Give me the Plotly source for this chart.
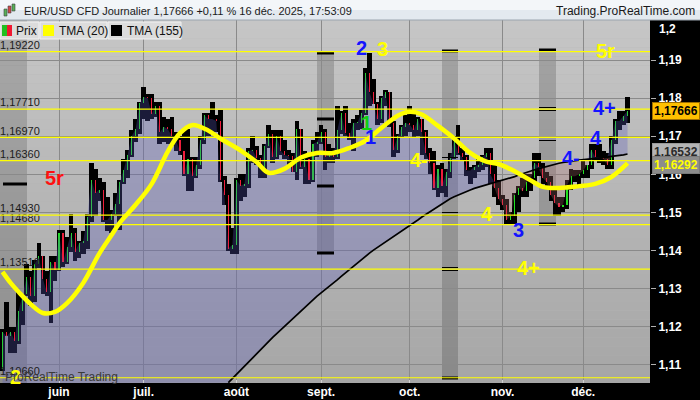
import numpy as np
import pandas as pd
import plotly.graph_objects as go

# ---------------- data ----------------
dates = pd.bdate_range("2025-05-13", "2025-12-16")

opens = [
    1.1090, 1.1187, 1.1175, 1.1187, 1.1163, 1.1242, 1.1285, 1.1330, 1.1280, 1.1365, 1.1385, 1.1325, 1.1290, 1.1370,
    1.1350, 1.1445, 1.1370, 1.1410, 1.1445, 1.1397, 1.1420, 1.1425, 1.1487, 1.1585, 1.1550, 1.1560, 1.1480, 1.1480,
    1.1495, 1.1523, 1.1580, 1.1610, 1.1650, 1.1700, 1.1718,
    1.1787, 1.1803, 1.1800, 1.1758, 1.1780, 1.1710, 1.1725, 1.1718, 1.1700, 1.1690, 1.1660, 1.1600, 1.1640, 1.1595,
    1.1625, 1.1690, 1.1755, 1.1745, 1.1745, 1.1740, 1.1585, 1.1545, 1.1405,
    1.1415, 1.1585, 1.1570, 1.1575, 1.1660, 1.1665, 1.1642, 1.1615, 1.1675, 1.1705, 1.1645, 1.1700, 1.1662, 1.1650,
    1.1648, 1.1607, 1.1718, 1.1620, 1.1640, 1.1585, 1.1680,
    1.1685, 1.1710, 1.1645, 1.1662, 1.1645, 1.1715, 1.1760, 1.1708, 1.1695, 1.1735, 1.1735, 1.1760, 1.1865, 1.1815,
    1.1785, 1.1745, 1.1800, 1.1815, 1.1735, 1.1665, 1.1700, 1.1725,
    1.1735, 1.1730, 1.1715, 1.1745, 1.1710, 1.1655, 1.1630, 1.1565, 1.1615, 1.1570, 1.1605, 1.1645, 1.1690, 1.1655,
    1.1645, 1.1610, 1.1610, 1.1620, 1.1625, 1.1645, 1.1655, 1.1600, 1.1565,
    1.1535, 1.1520, 1.1480, 1.1490, 1.1545, 1.1565, 1.1555, 1.1580, 1.1590, 1.1630, 1.1620, 1.1590, 1.1580, 1.1545,
    1.1525, 1.1515, 1.1520, 1.1570, 1.1595, 1.1595,
    1.1600, 1.1610, 1.1625, 1.1665, 1.1645, 1.1645, 1.1640, 1.1625, 1.1690, 1.1740, 1.1740, 1.1752,
]
highs = [
    1.1195, 1.1265, 1.1200, 1.1200, 1.1290, 1.1287, 1.1364, 1.1345, 1.1375, 1.1420, 1.1385, 1.1345, 1.1385, 1.1385,
    1.1455, 1.1455, 1.1435, 1.1495, 1.1460, 1.1425, 1.1450, 1.1495, 1.1630, 1.1615, 1.1590, 1.1580, 1.1540, 1.1505,
    1.1550, 1.1585, 1.1640, 1.1665, 1.1715, 1.1745, 1.1790,
    1.1829, 1.1810, 1.1810, 1.1790, 1.1790, 1.1750, 1.1745, 1.1750, 1.1710, 1.1700, 1.1720, 1.1720, 1.1645, 1.1645,
    1.1700, 1.1760, 1.1760, 1.1789, 1.1755, 1.1770, 1.1595, 1.1575, 1.1460,
    1.1590, 1.1600, 1.1600, 1.1670, 1.1700, 1.1675, 1.1650, 1.1680, 1.1730, 1.1715, 1.1715, 1.1715, 1.1690, 1.1665,
    1.1655, 1.1740, 1.1720, 1.1660, 1.1650, 1.1690, 1.1710,
    1.1730, 1.1720, 1.1680, 1.1670, 1.1780, 1.1765, 1.1780, 1.1735, 1.1745, 1.1755, 1.1770, 1.1878, 1.1918, 1.1850,
    1.1790, 1.1805, 1.1820, 1.1815, 1.1740, 1.1705, 1.1730, 1.1755,
    1.1780, 1.1760, 1.1750, 1.1745, 1.1715, 1.1670, 1.1660, 1.1625, 1.1630, 1.1615, 1.1655, 1.1700, 1.1730, 1.1670,
    1.1650, 1.1620, 1.1625, 1.1640, 1.1650, 1.1670, 1.1670, 1.1625, 1.1585,
    1.1545, 1.1535, 1.1500, 1.1550, 1.1570, 1.1590, 1.1600, 1.1600, 1.1655, 1.1655, 1.1630, 1.1605, 1.1595, 1.1560,
    1.1540, 1.1540, 1.1585, 1.1615, 1.1610, 1.1610,
    1.1640, 1.1625, 1.1680, 1.1680, 1.1680, 1.1660, 1.1655, 1.1700, 1.1745, 1.1765, 1.1765, 1.1804,
]
lows = [
    1.1085, 1.1175, 1.1130, 1.1130, 1.1155, 1.1205, 1.1280, 1.1255, 1.1265, 1.1355, 1.1285, 1.1280, 1.1210, 1.1320,
    1.1345, 1.1357, 1.1365, 1.1395, 1.1372, 1.1380, 1.1390, 1.1405, 1.1475, 1.1490, 1.1530, 1.1475, 1.1450, 1.1445,
    1.1490, 1.1455, 1.1575, 1.1590, 1.1645, 1.1685, 1.1705,
    1.1745, 1.1740, 1.1745, 1.1750, 1.1680, 1.1685, 1.1680, 1.1675, 1.1660, 1.1650, 1.1595, 1.1555, 1.1555, 1.1590,
    1.1615, 1.1680, 1.1700, 1.1705, 1.1710, 1.1580, 1.1520, 1.1400, 1.1392,
    1.1390, 1.1530, 1.1540, 1.1565, 1.1630, 1.1625, 1.1590, 1.1590, 1.1670, 1.1630, 1.1640, 1.1650, 1.1640, 1.1620,
    1.1605, 1.1585, 1.1615, 1.1575, 1.1575, 1.1580, 1.1645,
    1.1680, 1.1610, 1.1630, 1.1630, 1.1640, 1.1705, 1.1700, 1.1690, 1.1660, 1.1715, 1.1720, 1.1755, 1.1780, 1.1785,
    1.1730, 1.1735, 1.1780, 1.1725, 1.1645, 1.1655, 1.1695, 1.1700,
    1.1710, 1.1695, 1.1700, 1.1650, 1.1640, 1.1600, 1.1560, 1.1540, 1.1550, 1.1540, 1.1590, 1.1640, 1.1650, 1.1635,
    1.1595, 1.1575, 1.1590, 1.1605, 1.1610, 1.1620, 1.1575, 1.1540, 1.1520,
    1.1505, 1.1470, 1.1468, 1.1470, 1.1500, 1.1540, 1.1540, 1.1555, 1.1575, 1.1595, 1.1575, 1.1570, 1.1530, 1.1490,
    1.1490, 1.1500, 1.1510, 1.1560, 1.1580, 1.1565,
    1.1590, 1.1590, 1.1615, 1.1635, 1.1630, 1.1625, 1.1615, 1.1615, 1.1680, 1.1715, 1.1730, 1.1735,
]
closes = [
    1.1187, 1.1175, 1.1187, 1.1163, 1.1242, 1.1285, 1.1330, 1.1280, 1.1365, 1.1385, 1.1325, 1.1290, 1.1370, 1.1350,
    1.1445, 1.1370, 1.1410, 1.1445, 1.1397, 1.1420, 1.1425, 1.1487, 1.1585, 1.1550, 1.1560, 1.1480, 1.1480, 1.1495,
    1.1523, 1.1580, 1.1610, 1.1650, 1.1700, 1.1718, 1.1787,
    1.1803, 1.1800, 1.1758, 1.1780, 1.1710, 1.1725, 1.1718, 1.1700, 1.1690, 1.1660, 1.1600, 1.1640, 1.1595, 1.1625,
    1.1690, 1.1755, 1.1745, 1.1745, 1.1740, 1.1585, 1.1545, 1.1405, 1.1415,
    1.1585, 1.1570, 1.1575, 1.1660, 1.1665, 1.1642, 1.1615, 1.1675, 1.1705, 1.1645, 1.1700, 1.1662, 1.1650, 1.1648,
    1.1607, 1.1718, 1.1620, 1.1640, 1.1585, 1.1680, 1.1685,
    1.1710, 1.1645, 1.1662, 1.1645, 1.1715, 1.1760, 1.1708, 1.1695, 1.1735, 1.1735, 1.1760, 1.1865, 1.1815, 1.1785,
    1.1745, 1.1800, 1.1815, 1.1735, 1.1665, 1.1700, 1.1725, 1.1735,
    1.1730, 1.1715, 1.1745, 1.1710, 1.1655, 1.1630, 1.1565, 1.1615, 1.1570, 1.1605, 1.1645, 1.1690, 1.1655, 1.1645,
    1.1610, 1.1610, 1.1620, 1.1625, 1.1645, 1.1655, 1.1600, 1.1565, 1.1535,
    1.1520, 1.1480, 1.1490, 1.1545, 1.1565, 1.1555, 1.1580, 1.1590, 1.1630, 1.1620, 1.1590, 1.1580, 1.1545, 1.1525,
    1.1515, 1.1520, 1.1570, 1.1595, 1.1595, 1.1600,
    1.1610, 1.1625, 1.1665, 1.1645, 1.1645, 1.1640, 1.1625, 1.1690, 1.1740, 1.1740, 1.1752, 1.17666,
]

# TMA(20): read at selected trading-day indices
tma20_day = [0, 2, 4, 7, 10, 13, 16, 20, 24, 27, 29, 33, 37, 41, 44, 47, 51, 54, 59, 63, 66, 70, 74, 78, 82,
             86, 90, 94, 98, 101, 104, 108, 112, 116, 120, 123, 127, 131, 134, 138, 143, 147, 151, 155]
tma20_val = [1.1344, 1.1315, 1.1291, 1.1259, 1.1236, 1.1239, 1.1262, 1.1315, 1.1392, 1.1440, 1.1472, 1.1520,
             1.1575, 1.1660, 1.1708, 1.1729, 1.1715, 1.1694, 1.1663, 1.1632, 1.1604, 1.1615, 1.1644, 1.1656,
             1.1656, 1.1669, 1.1688, 1.1722, 1.1754, 1.1764, 1.1757, 1.1727, 1.1694, 1.1656, 1.1633, 1.1627,
             1.1608, 1.1584, 1.1567, 1.1564, 1.1569, 1.1575, 1.1593, 1.16292]

# TMA(155): visible from trading day index 56 (30 July) to the end
tma155_start = 56
tma155 = [
    1.1053, 1.1064, 1.1075, 1.1086, 1.1096, 1.1107, 1.1118, 1.1129, 1.1140, 1.1151, 1.1162, 1.1172, 1.1182, 1.1192,
    1.1202, 1.1212, 1.1222, 1.1232, 1.1242, 1.1252, 1.1262, 1.1271, 1.1280, 1.1289, 1.1297, 1.1306, 1.1315, 1.1323,
    1.1332, 1.1341, 1.1349, 1.1358, 1.1367, 1.1375, 1.1384, 1.1393, 1.1401, 1.1408, 1.1416, 1.1423, 1.1430, 1.1437,
    1.1444, 1.1452, 1.1459, 1.1466, 1.1473, 1.1480, 1.1488, 1.1495, 1.1503, 1.1510, 1.1517, 1.1524, 1.1530, 1.1536,
    1.1541, 1.1546, 1.1551, 1.1555, 1.1559, 1.1563, 1.1566, 1.1569, 1.1572, 1.1575, 1.1578, 1.1580, 1.1583, 1.1587,
    1.1591, 1.1594, 1.1598, 1.1602, 1.1605, 1.1609, 1.1612, 1.1615, 1.1618, 1.1621, 1.1624, 1.1627, 1.1629, 1.1631,
    1.1632, 1.1634, 1.1635, 1.1637, 1.1638, 1.1639, 1.1641, 1.1642, 1.1643, 1.1644, 1.1645, 1.1647, 1.1648, 1.1650,
    1.1651, 1.16532,
]

levels = [1.19220, 1.17710, 1.16970, 1.16360, 1.14930, 1.14680, 1.13510, 1.10660]
level_labels = ["1,19220", "1,17710", "1,16970", "1,16360", "1,14930", "1,14680", "1,13510", "1,10660"]

month_numbers = [6, 7, 8, 9, 10, 11, 12]
month_labels = ["juin", "juil.", "août", "sept.", "oct.", "nov.", "déc."]

ytick_vals = [1.11, 1.12, 1.13, 1.14, 1.15, 1.16, 1.17, 1.18, 1.19]
ytick_text = ["1,11", "1,12", "1,13", "1,14", "1,15", "1,16", "1,17", "1,18", "1,19"]

title_text = "EUR/USD CFD Journalier 1,17666 +0,11 % 16 déc. 2025, 17:53:09"

# ---------------- geometry helpers (pixel -> axis) ----------------
W, H = 700, 400
ML, MR, MT, MB = 0, 50, 20, 17
PW, PH = W - ML - MR, H - MT - MB
X0_PX, DAY_PX = 2.55, 4.032          # x pixel of first candle, pixels per trading day
Y_REF_PX, Y_REF, PX_PER_UNIT = 60.0, 1.19, 3810.0


def day(xp):
    return (xp - X0_PX) / DAY_PX


def price(yp):
    return Y_REF - (yp - Y_REF_PX) / PX_PER_UNIT


def px(xp):
    return xp / PW


def py(yp):
    return (MT + PH - yp) / PH


x_range = [day(0), day(PW)]
y_range = [price(MT + PH), price(MT)]
ymin = y_range[0]

X = np.arange(len(dates))
o, h, l, c = map(np.array, (opens, highs, lows, closes))
t155 = np.array(tma155)
t155_x = X[tma155_start:tma155_start + len(t155)]

lower = np.full(len(X), ymin)
lower[tma155_start:] = np.maximum(t155, ymin)
upper = c.copy()
upper[tma155_start:] = np.maximum(c[tma155_start:], t155)
under = np.minimum(c[tma155_start:], t155)

month_pos = [int(np.argmax(dates.month == m)) for m in month_numbers]

FONT = "Liberation Sans, Arial, sans-serif"
BLUE, YELLOW, GREEN, RED = "#1414ff", "#ffff00", "#10d010", "#ff1010"

fig = go.Figure()

# area between price and TMA(155)
fig.add_trace(go.Scatter(x=X, y=lower, mode="lines", line=dict(width=0), hoverinfo="skip"))
fig.add_trace(go.Scatter(x=X, y=upper, mode="lines", line=dict(width=0), fill="tonexty",
                         fillcolor="rgba(90,90,190,0.30)", hoverinfo="skip"))
fig.add_trace(go.Scatter(x=t155_x, y=under, mode="lines", line=dict(width=0), hoverinfo="skip"))
fig.add_trace(go.Scatter(x=t155_x, y=t155, mode="lines", line=dict(width=0), fill="tonexty",
                         fillcolor="rgba(175,110,110,0.28)", hoverinfo="skip"))

# level labels (under candles)
fig.add_trace(go.Scatter(x=[day(0)] * len(levels), y=levels, mode="text", text=level_labels,
                         textposition="top right", cliponaxis=False,
                         textfont=dict(family=FONT, size=11, color="#1c1c1c"), hoverinfo="skip"))

# candles: black high-low block and thin coloured body
fig.add_trace(go.Bar(x=X, y=h - l, base=l, width=1.15,
                     marker=dict(color="black", line=dict(width=0)), hoverinfo="skip"))
body_base = np.minimum(o, c)
body_h = np.maximum(np.abs(c - o), 0.00012)
body_col = ["#22e022" if cc >= oo else "#f01e3c" for oo, cc in zip(o, c)]
fig.add_trace(go.Bar(x=X, y=body_h, base=body_base, width=0.27,
                     marker=dict(color=body_col, line=dict(width=0)), hoverinfo="skip"))

# moving averages
fig.add_trace(go.Scatter(x=t155_x, y=t155, mode="lines", line=dict(color="black", width=1.7),
                         hoverinfo="skip"))
fig.add_trace(go.Scatter(x=tma20_day, y=tma20_val, mode="lines",
                         line=dict(color=YELLOW, width=4.5, shape="spline", smoothing=1.0), hoverinfo="skip"))

shapes = []
# background gradient
n_bands = 40
for k in range(n_bands):
    v = int(round(166 + (198 - 166) * (k + 0.5) / n_bands))
    shapes.append(dict(type="rect", xref="paper", yref="paper", x0=0, x1=1, y0=k / n_bands,
                       y1=(k + 1) / n_bands, fillcolor=f"rgb({v},{v},{v})", line=dict(width=0),
                       layer="below"))
# darker strip on the left
shapes.append(dict(type="rect", xref="x", yref="paper", x0=day(0), x1=day(27), y0=0, y1=1,
                   fillcolor="rgba(0,0,0,0.15)", line=dict(width=0), layer="below"))

# grey vertical projection bars with their caps
bars = [
    (317, 334, 53, 253, [(53, 1), (119, 1), (186, 1), (253, 1)]),
    (442, 458, 51, 379, [(51, 1), (159, 2), (214, 2), (269, 2), (378, 1)]),
    (539, 556, 50, 224, [(50, 1), (109, 2), (139, 2), (224, 1)]),
]
for x0p, x1p, ytop, ybot, caps in bars:
    shapes.append(dict(type="rect", xref="x", yref="y", x0=day(x0p), x1=day(x1p), y0=price(ybot),
                       y1=price(ytop), fillcolor="rgba(0,0,0,0.17)", line=dict(width=0), layer="below"))
    for yc, kind in caps:
        if kind == 1:
            shapes.append(dict(type="line", xref="x", yref="y", x0=day(x0p), x1=day(x1p),
                               y0=price(yc), y1=price(yc), line=dict(color="black", width=3)))
        else:
            for dy in (-1.5, 1.5):
                shapes.append(dict(type="line", xref="x", yref="y", x0=day(x0p), x1=day(x1p),
                                   y0=price(yc + dy), y1=price(yc + dy), line=dict(color="black", width=1)))

# short black marker at the left
shapes.append(dict(type="line", xref="x", yref="y", x0=day(3), x1=day(27), y0=price(184), y1=price(184),
                   line=dict(color="black", width=3)))

# horizontal yellow levels
for lv in levels:
    shapes.append(dict(type="line", xref="paper", yref="y", x0=0, x1=1, y0=lv, y1=lv,
                       line=dict(color=YELLOW, width=1.2)))

# top banner
shapes.append(dict(type="rect", xref="paper", yref="paper", x0=0, x1=W / PW, y0=py(10), y1=py(0),
                   fillcolor="#f3f6f9", line=dict(width=0)))
shapes.append(dict(type="rect", xref="paper", yref="paper", x0=0, x1=W / PW, y0=py(20), y1=py(10),
                   fillcolor="#e3e9ef", line=dict(width=0)))
shapes.append(dict(type="line", xref="paper", yref="paper", x0=0, x1=W / PW, y0=py(20), y1=py(20),
                   line=dict(color="#9aa4ae", width=1)))
# small icon in the banner
for (a, b, t, u, col) in [(4, 7, 9, 16, "#58b058"), (8, 11, 6, 13, "#d04848"), (12, 15, 4, 11, "#58b058")]:
    shapes.append(dict(type="rect", xref="paper", yref="paper", x0=px(a), x1=px(b), y0=py(u), y1=py(t),
                       fillcolor=col, line=dict(color="#404040", width=0.6)))

# legend boxes
legend_boxes = [(0, 39), (40, 107), (108, 181)]
for a, b in legend_boxes:
    shapes.append(dict(type="rect", xref="paper", yref="paper", x0=px(a), x1=px(b), y0=py(39), y1=py(22),
                       fillcolor="#dcdcdc", line=dict(color="#f2f2f2", width=1)))
shapes.append(dict(type="rect", xref="paper", yref="paper", x0=px(2), x1=px(7), y0=py(36), y1=py(25),
                   fillcolor="#20c020", line=dict(width=0)))
shapes.append(dict(type="rect", xref="paper", yref="paper", x0=px(7), x1=px(12), y0=py(36), y1=py(25),
                   fillcolor="#f01830", line=dict(width=0)))
shapes.append(dict(type="rect", xref="paper", yref="paper", x0=px(43), x1=px(54), y0=py(36), y1=py(25),
                   fillcolor=YELLOW, line=dict(width=0)))
shapes.append(dict(type="rect", xref="paper", yref="paper", x0=px(111), x1=px(122), y0=py(36), y1=py(25),
                   fillcolor="black", line=dict(width=0)))

ann = []
# banner texts
ann.append(dict(text=title_text, xref="paper", yref="paper", x=px(22), y=py(11), xanchor="left",
                yanchor="middle", showarrow=False, font=dict(family=FONT, size=11, color="#1a1a1a")))
ann.append(dict(text="Trading.ProRealTime.com", xref="paper", yref="paper", x=px(697), y=py(11),
                xanchor="right", yanchor="middle", showarrow=False,
                font=dict(family=FONT, size=12, color="#1a1a1a")))
for txt, xp in [("Prix", 14), ("TMA (20)", 57), ("TMA (155)", 125)]:
    ann.append(dict(text=txt, xref="paper", yref="paper", x=px(xp), y=py(30.5), xanchor="left",
                    yanchor="middle", showarrow=False, font=dict(family=FONT, size=12, color="#111111")))

# pattern labels
labels = [
    ("2", BLUE, 361, 48), ("3", YELLOW, 382, 49), ("5r", YELLOW, 605, 51), ("5r", RED, 54, 178),
    ("1", GREEN, 366, 123), ("1", BLUE, 370, 137), ("4-", YELLOW, 419, 160), ("4", YELLOW, 487, 214),
    ("3", BLUE, 518, 230), ("4+", YELLOW, 528, 268), ("4-", BLUE, 571, 158), ("4", BLUE, 596, 138),
    ("4+", BLUE, 604, 108), ("2", YELLOW, 15, 377),
]
for txt, col, xp, yp in labels:
    ann.append(dict(text=f"<b>{txt}</b>", x=day(xp), y=price(yp), xref="x", yref="y", showarrow=False,
                    xanchor="center", yanchor="middle", font=dict(family=FONT, size=20, color=col)))

ann.append(dict(text="ProRealTime Trading", xref="paper", yref="paper", x=px(3), y=py(377), xanchor="left",
                yanchor="middle", showarrow=False, font=dict(family=FONT, size=12, color="#3a3a3a")))

# right-axis value boxes
ann.append(dict(text="<b>1,2</b>", xref="paper", yref="paper", x=px(657), y=py(29), xanchor="left",
                yanchor="middle", showarrow=False, font=dict(family=FONT, size=12, color="white")))
ann.append(dict(text="<b>1,17666</b>", xref="paper", yref="y", x=px(675.5), y=closes[-1], showarrow=False,
                xanchor="center", yanchor="middle", bgcolor="#ffc000", bordercolor="#a07000", borderwidth=1,
                borderpad=1, font=dict(family=FONT, size=12, color="black")))
ann.append(dict(text="<b>1,16532</b>", xref="paper", yref="y", x=px(675.5), y=tma155[-1], yshift=2,
                showarrow=False, xanchor="center", yanchor="middle", bgcolor="#b4b4b4", bordercolor="#9a9a9a",
                borderwidth=1, borderpad=1, font=dict(family=FONT, size=12, color="#2a2a2a")))
ann.append(dict(text="<b>1,16292</b>", xref="paper", yref="y", x=px(675.5), y=tma20_val[-1], yshift=-2,
                showarrow=False, xanchor="center", yanchor="middle", bgcolor="#8c8c8c", bordercolor="#7a7a7a",
                borderwidth=1, borderpad=1, font=dict(family=FONT, size=12, color=YELLOW)))

fig.update_layout(
    width=W, height=H, autosize=False,
    margin=dict(l=ML, r=MR, t=MT, b=MB, pad=0),
    paper_bgcolor="black", plot_bgcolor="#b4b4b4",
    showlegend=False, barmode="overlay", bargap=0, hovermode=False,
    shapes=shapes, annotations=ann,
    xaxis=dict(range=x_range, tickvals=month_pos, ticktext=month_labels, showgrid=True,
               gridcolor="#8a8a8a", gridwidth=1, zeroline=False, showline=False, ticks="inside",
               ticklen=3, tickcolor="#d0d0d0", fixedrange=True,
               tickfont=dict(family=FONT, size=12, color="white", weight="bold")),
    yaxis=dict(range=y_range, side="right", tickvals=ytick_vals, ticktext=ytick_text, showgrid=True,
               gridcolor="#8a8a8a", gridwidth=1, zeroline=False, showline=False, ticks="outside",
               ticklen=5, tickcolor="#b0b0b0", fixedrange=True,
               tickfont=dict(family=FONT, size=12, color="white", weight="bold")),
)

fig.write_html(
    "out.html",
    config={"displayModeBar": False, "staticPlot": True},
    post_script="document.body.style.margin='0px';document.body.style.overflow='hidden';",
)
